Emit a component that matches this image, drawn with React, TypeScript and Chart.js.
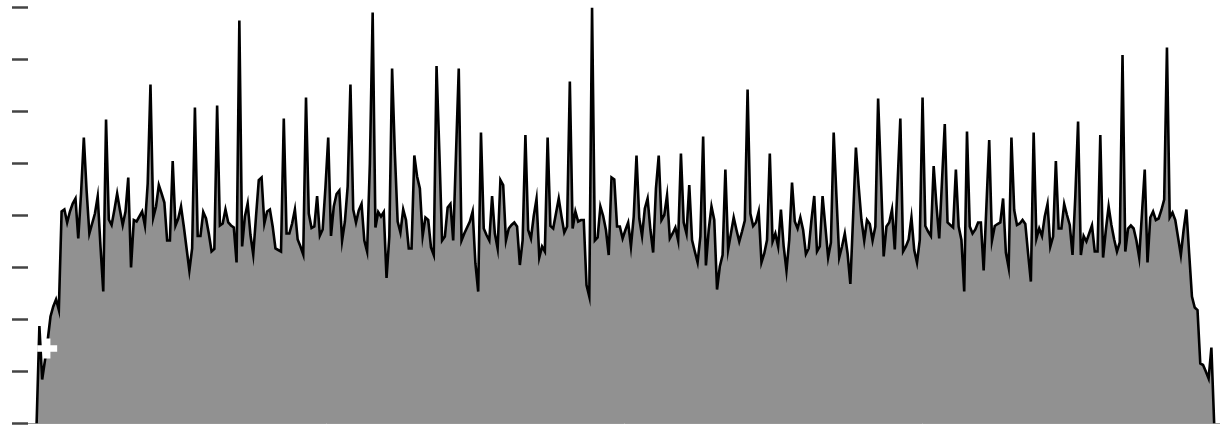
import React, { useEffect, useRef } from "react";
import { Chart, registerables } from "chart.js";

Chart.register(...registerables);

// Series heights (value units, axis 0..416), one per sample, left to right
const heights: number[] = [
  0, 97.5, 44, 63, 83.5, 107, 117, 124, 113.5, 212,
  214, 201, 212, 220, 225, 185, 230, 286, 233, 190,
  200, 210, 227, 177, 132, 304, 204, 198.5, 213.5, 230,
  213.5, 198.5, 212, 246, 156, 203.5, 202, 207, 212, 198,
  240, 339, 206, 217, 238.5, 230, 221, 183, 183, 262.5,
  198, 205, 217, 197, 175, 153, 175, 316, 187.5, 187.5,
  211.5, 205, 190, 172, 174.5, 318, 198, 200, 214, 201,
  198, 196, 161, 403, 177, 207, 220, 188.5, 169, 207,
  243.5, 246, 200, 212, 214, 197, 175, 173.5, 172, 305,
  190, 190, 200, 214, 184, 177, 169, 326, 210, 195.5,
  197, 227.5, 188, 194, 236, 286, 187.5, 217, 229.5, 233,
  183, 202, 237, 339, 214, 201, 213, 219.5, 183, 172,
  260, 411, 196, 211.5, 207, 211.5, 145.5, 187, 355, 270,
  202, 191, 214, 203.5, 175, 175, 268, 247, 235, 187.5,
  206, 203.5, 176, 168.5, 357.5, 273, 183, 187, 216, 219.5,
  183, 269, 355, 183, 190, 196, 202, 212, 160, 132,
  291, 195, 188.5, 183, 227.5, 190, 175, 243.5, 238.5, 183,
  195, 198.5, 201, 197, 158.5, 183, 288.5, 193.5, 185, 207.5,
  224.5, 166, 177, 172, 286, 197.5, 195, 210, 225, 207,
  191, 197, 342, 195, 212, 202, 203.5, 203.5, 138.5, 127,
  416, 183, 186, 217, 207.5, 193.5, 168.5, 246, 244, 197,
  197, 185, 193.5, 201, 177, 207, 268, 205, 187.5, 215,
  225, 194, 171, 235, 268, 203.5, 208.5, 228, 185, 190,
  196, 183, 270, 201, 190, 238.5, 183.5, 172, 161, 187,
  287, 158, 193.5, 217, 203.5, 134, 157, 168.5, 254, 174,
  190, 206, 193.5, 182, 192, 203, 334, 210, 197.5, 201,
  212, 161, 170, 183.5, 270, 182, 190, 177, 214, 177,
  153, 183.5, 241, 202, 195, 206, 193.5, 169.5, 175, 203.5,
  227.5, 172, 177, 227.5, 197, 166, 181, 291, 227, 166,
  177, 190, 170, 139.5, 207, 276, 237, 203.5, 183, 203.5,
  199.5, 183, 197, 325, 247, 167, 197, 201, 214, 174,
  240, 305, 172, 177, 184, 206, 173.5, 161, 183.5, 326,
  197.5, 192, 187.5, 257.5, 218.5, 185, 242.5, 299.5, 201, 198.5,
  196, 254, 197, 183.5, 132, 292, 197, 190, 194, 201,
  201, 153, 218, 283.5, 183, 197.5, 199.5, 201, 225, 171,
  156, 286, 213.5, 198.5, 200, 203.5, 199.5, 170, 142, 291,
  185, 195, 187.5, 207, 219.5, 177, 187, 262.5, 195, 195,
  219.5, 208.5, 198.5, 168.5, 227, 302, 168.5, 187.5, 182, 190,
  198, 172, 172, 288.5, 166, 193.5, 217, 198.5, 184, 172,
  181, 368.5, 172, 195, 198, 195, 183, 166, 210, 254,
  161, 206, 212, 203.5, 205, 213.5, 224, 376, 206, 211,
  203.5, 186, 168.5, 193.5, 214, 170, 127, 116, 113.5, 60,
  58.5, 52, 45, 76, 0,
];

// White "+" marker near the start of the series
const markerX: number[] = [3.8];
const markerY: number[] = [75];

// Y axis range and tick step
const yMin = 0;
const yMax = 416;
const yStep = 52;

export default function App() {
  const ref = useRef<HTMLCanvasElement | null>(null);

  useEffect(() => {
    document.body.style.margin = "0";
    const canvas = ref.current;
    if (!canvas) return;
    const chart = new Chart(canvas, {
      type: "line",
      data: {
        datasets: [
          {
            label: "marker",
            data: markerX.map((x, i) => ({ x, y: markerY[i] })),
            showLine: false,
            pointStyle: "cross",
            pointRadius: 10,
            pointBorderWidth: 6.5,
            pointBorderColor: "#ffffff",
            pointBackgroundColor: "#ffffff",
            clip: false,
            order: 0,
          },
          {
            label: "series",
            data: heights.map((v, i) => ({ x: i, y: v })),
            borderColor: "#000000",
            borderWidth: 2.6,
            backgroundColor: "#919191",
            fill: "origin",
            pointRadius: 0,
            tension: 0,
            order: 1,
          },
        ],
      },
      options: {
        animation: false,
        responsive: false,
        layout: { autoPadding: false, padding: { left: 12, top: 7.5, right: 0, bottom: 1.5 } },
        plugins: { legend: { display: false }, tooltip: { enabled: false } },
        scales: {
          x: {
            type: "linear",
            min: -3.1,
            max: 426.1,
            ticks: { display: false },
            grid: { display: true, drawOnChartArea: false, drawTicks: false },
            border: { display: true, color: "#9a9a9a", width: 1 },
          },
          y: {
            min: yMin,
            max: yMax,
            ticks: { display: false, stepSize: yStep },
            grid: {
              display: true,
              drawOnChartArea: false,
              drawTicks: true,
              tickLength: 16,
              tickWidth: 2.5,
              tickColor: "#444444",
            },
            border: { display: false },
            afterFit: (s: any) => {
              s.width = 16;
            },
          },
        },
      },
    });
    return () => chart.destroy();
  }, []);

  return (
    <div style={{ position: "absolute", left: 0, top: 0, width: 1220, height: 425 }}>
      <canvas ref={ref} width={1220} height={425} style={{ display: "block" }} />
    </div>
  );
}
